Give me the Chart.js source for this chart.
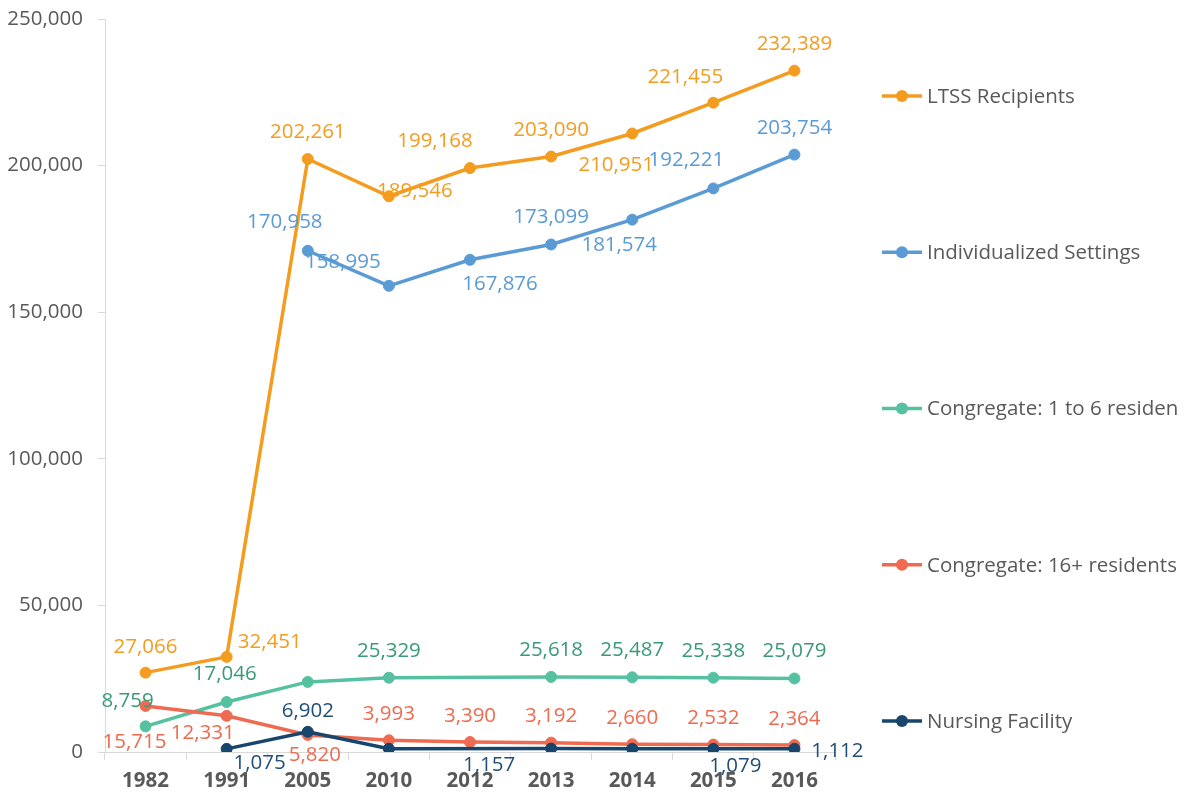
<!DOCTYPE html>
<html>
<head>
<meta charset="utf-8">
<title>LTSS Recipients by Setting</title>
<script src="https://cdn.jsdelivr.net/npm/chart.js@4.4.1/dist/chart.umd.min.js"></script>
<style>
  html, body { margin: 0; padding: 0; background: #ffffff; }
  #wrap { width: 1188px; height: 795px; position: relative; }
</style>
</head>
<body>
<div id="wrap"><canvas id="chart" width="1188" height="795"></canvas></div>
<script>
// Categories (years)
const years = ['1982', '1991', '2005', '2010', '2012', '2013', '2014', '2015', '2016'];

// Series values (people)
const ltssRecipients      = [27066, 32451, 202261, 189546, 199168, 203090, 210951, 221455, 232389];
const individualized      = [null, null, 170958, 158995, 167876, 173099, 181574, 192221, 203754];
const congregate1to6      = [8759, 17046, 23900, 25329, null, 25618, 25487, 25338, 25079];
const congregate16plus    = [15715, 12331, 5820, 3993, 3390, 3192, 2660, 2532, 2364];
const nursingFacility     = [null, 1075, 6902, 1100, null, 1157, 1100, 1079, 1112];

// Value-axis ticks
const yTicks = [0, 50000, 100000, 150000, 200000, 250000];

// Which points carry a printed value (false = point drawn without a label)
const labelShown = {
  ltss:   [true, true, true, true, true, true, true, true, true],
  indiv:  [false, false, true, true, true, true, true, true, true],
  cong6:  [true, true, false, true, false, true, true, true, true],
  cong16: [true, true, true, true, true, true, true, true, true],
  nurse:  [false, true, true, false, false, true, false, true, true]
};

// Label placement relative to each point (pixels, text centre)
const labelOffsets = {
  ltss:   [[0,-25],[43,-15],[0,-27],[26,-5],[-35,-27],[0,-26],[-16,32],[-28,-26],[0,-26]],
  indiv:  [null,null,[-23,-29],[-46,-24],[30,24],[0,-27],[-13,26],[-27,-28],[0,-26]],
  cong6:  [[-18,-25],[-2,-28],null,[0,-27],null,[0,-27],[0,-27],[0,-27],[0,-27]],
  cong16: [[-11,36],[-24,17],[7,20],[0,-26],[0,-26],[0,-26],[0,-26],[0,-26],[0,-26]],
  nurse:  [null,[33,14],[0,-21],null,null,[-62,17],null,[22,17],[43,2]]
};

const FONT = "'Open Sans', 'Noto Sans', sans-serif";
const FONT_SIZE = 20.5;
const fmt = v => Number(v).toLocaleString('en-US');

const series = [
  { key: 'ltss',   label: 'LTSS Recipients',            data: ltssRecipients,   color: '#F39C1F', text: '#F39C1F', order: 4 },
  { key: 'indiv',  label: 'Individualized Settings',    data: individualized,   color: '#5B9BD5', text: '#5B9BD5', order: 3 },
  { key: 'cong6',  label: 'Congregate: 1 to 6 residents', data: congregate1to6, color: '#56C1A0', text: '#3A9A78', order: 2 },
  { key: 'cong16', label: 'Congregate: 16+ residents',  data: congregate16plus, color: '#EE6A50', text: '#EE6A50', order: 1 },
  { key: 'nurse',  label: 'Nursing Facility',           data: nursingFacility,  color: '#17456B', text: '#1F4E79', order: 0 }
];

// Per-point value labels
const valueLabels = {
  id: 'valueLabels',
  afterDatasetsDraw(chart) {
    const ctx = chart.ctx;
    ctx.save();
    ctx.font = FONT_SIZE + 'px ' + FONT;
    ctx.textAlign = 'center';
    ctx.textBaseline = 'middle';
    chart.data.datasets.forEach((ds, i) => {
      const meta = chart.getDatasetMeta(i);
      const shown = labelShown[ds.key];
      const offs = labelOffsets[ds.key];
      meta.data.forEach((pt, j) => {
        const v = ds.data[j];
        if (v == null || !shown[j] || !offs[j]) return;
        ctx.fillStyle = ds.labelColor;
        ctx.fillText(fmt(v), pt.x + offs[j][0], pt.y + offs[j][1]);
      });
    });
    ctx.restore();
  }
};

// Legend down the right-hand side, entries spread over the plot height;
// the legend box ends a little before the canvas edge and clips long names
const sideLegend = {
  id: 'sideLegend',
  afterDraw(chart, args, opts) {
    const ctx = chart.ctx;
    const area = chart.chartArea;
    const x0 = area.right + opts.gapLeft;
    ctx.save();
    ctx.beginPath();
    ctx.rect(x0 - 2, 0, opts.clipRight - (x0 - 2), chart.height);
    ctx.clip();
    chart.data.datasets.forEach((ds, i) => {
      const y = opts.top + i * opts.spacing;
      ctx.strokeStyle = ds.borderColor;
      ctx.lineWidth = 3.5;
      ctx.beginPath();
      ctx.moveTo(x0, y);
      ctx.lineTo(x0 + opts.lineLength, y);
      ctx.stroke();
      ctx.fillStyle = ds.borderColor;
      ctx.beginPath();
      ctx.arc(x0 + opts.lineLength / 2, y, 6, 0, Math.PI * 2);
      ctx.fill();
      ctx.fillStyle = '#595959';
      ctx.font = FONT_SIZE + 'px ' + FONT;
      ctx.textAlign = 'left';
      ctx.textBaseline = 'middle';
      ctx.fillText(ds.label, x0 + opts.lineLength + 5, y + 1);
    });
    ctx.restore();
  }
};

new Chart(document.getElementById('chart'), {
  type: 'line',
  data: {
    labels: years,
    datasets: series.map(s => ({
      key: s.key,
      label: s.label,
      data: s.data,
      borderColor: s.color,
      backgroundColor: s.color,
      pointBackgroundColor: s.color,
      pointBorderColor: s.color,
      labelColor: s.text,
      borderWidth: 3.5,
      pointRadius: 5.5,
      pointBorderWidth: 1,
      pointHoverRadius: 5.5,
      tension: 0,
      spanGaps: true,
      fill: false,
      order: s.order
    }))
  },
  options: {
    responsive: false,
    animation: false,
    events: [],
    layout: { padding: { top: 19, right: 353, bottom: 0, left: 0 } },
    plugins: {
      legend: { display: false },
      tooltip: { enabled: false },
      sideLegend: { gapLeft: 47, lineLength: 40, top: 96, spacing: 156.25, clipRight: 1177 }
    },
    scales: {
      x: {
        type: 'category',
        offset: true,
        border: { display: true, color: '#D9D9D9', width: 1 },
        grid: { display: true, drawOnChartArea: false, drawTicks: true, tickLength: 8, color: '#D9D9D9', offset: true },
        ticks: { color: '#595959', font: { family: FONT, size: FONT_SIZE, weight: 'bold' }, padding: 9, maxRotation: 0 },
        afterFit(scale) {
          scale.height = 43;
          scale.paddingLeft = 0;
          scale.paddingRight = 0;
        }
      },
      y: {
        min: 0,
        max: 250000,
        afterBuildTicks(scale) { scale.ticks = yTicks.map(v => ({ value: v })); },
        border: { display: true, color: '#D9D9D9', width: 1 },
        grid: { display: true, drawOnChartArea: false, drawTicks: true, tickLength: 7, color: '#D9D9D9' },
        ticks: { color: '#595959', font: { family: FONT, size: FONT_SIZE }, padding: 15, callback: v => fmt(v) },
        afterFit(scale) {
          scale.width = 105;
          scale.paddingTop = 0;
          scale.paddingBottom = 0;
        }
      }
    }
  },
  plugins: [valueLabels, sideLegend]
});
</script>
</body>
</html>
